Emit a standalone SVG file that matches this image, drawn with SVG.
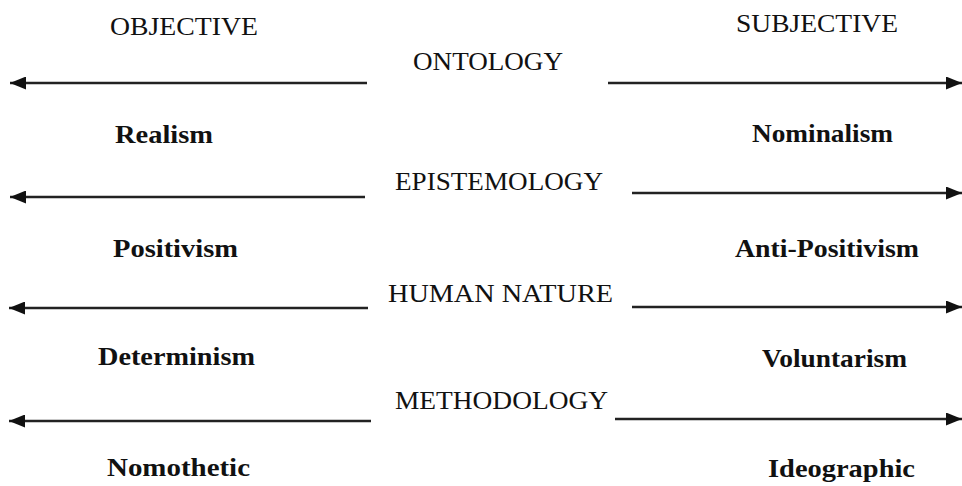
<svg xmlns="http://www.w3.org/2000/svg" width="962" height="486" viewBox="0 0 962 486">
<defs>
<marker id="ah" markerUnits="userSpaceOnUse" markerWidth="17" markerHeight="13" refX="16" refY="6.5" orient="auto">
<path d="M0,0 L16,6.5 L0,13 z" fill="#111"/>
</marker>
<style>
.hd{font-family:"Liberation Serif","Times New Roman",serif;font-size:26px;fill:#111}
.tm{font-family:"Liberation Serif","Times New Roman",serif;font-size:26px;font-weight:bold;fill:#111}
.ln{stroke:#222;stroke-width:2.5;fill:none;marker-end:url(#ah)}
</style>
</defs>
<rect width="962" height="486" fill="#fff"/>
<g id="header-objective"><text class="hd" x="110" y="35" textLength="148" lengthAdjust="spacingAndGlyphs">OBJECTIVE</text></g>
<g id="header-subjective"><text class="hd" x="736" y="32" textLength="162" lengthAdjust="spacingAndGlyphs">SUBJECTIVE</text></g>
<g id="ontology"><text class="hd" x="413" y="70" textLength="150" lengthAdjust="spacingAndGlyphs">ONTOLOGY</text></g>
<g id="epistemology"><text class="hd" x="395" y="190" textLength="208" lengthAdjust="spacingAndGlyphs">EPISTEMOLOGY</text></g>
<g id="human-nature"><text class="hd" x="388" y="302" textLength="225" lengthAdjust="spacingAndGlyphs">HUMAN NATURE</text></g>
<g id="methodology"><text class="hd" x="395" y="409" textLength="213" lengthAdjust="spacingAndGlyphs">METHODOLOGY</text></g>
<g id="realism"><text class="tm" x="115" y="143" textLength="98" lengthAdjust="spacingAndGlyphs">Realism</text></g>
<g id="nominalism"><text class="tm" x="752" y="142" textLength="141" lengthAdjust="spacingAndGlyphs">Nominalism</text></g>
<g id="positivism"><text class="tm" x="113" y="257" textLength="125" lengthAdjust="spacingAndGlyphs">Positivism</text></g>
<g id="anti-positivism"><text class="tm" x="735" y="257" textLength="184" lengthAdjust="spacingAndGlyphs">Anti-Positivism</text></g>
<g id="determinism"><text class="tm" x="98" y="365" textLength="157" lengthAdjust="spacingAndGlyphs">Determinism</text></g>
<g id="voluntarism"><text class="tm" x="762" y="367" textLength="145" lengthAdjust="spacingAndGlyphs">Voluntarism</text></g>
<g id="nomothetic"><text class="tm" x="107" y="476" textLength="143" lengthAdjust="spacingAndGlyphs">Nomothetic</text></g>
<g id="ideographic"><text class="tm" x="768" y="477" textLength="147" lengthAdjust="spacingAndGlyphs">Ideographic</text></g>
<g id="connectors">
<line class="ln" x1="367" y1="83" x2="10" y2="83"/>
<line class="ln" x1="608" y1="83" x2="962" y2="83"/>
<line class="ln" x1="365" y1="197" x2="10" y2="197"/>
<line class="ln" x1="632" y1="193" x2="962" y2="193"/>
<line class="ln" x1="368" y1="308" x2="9" y2="308"/>
<line class="ln" x1="632" y1="307" x2="962" y2="307"/>
<line class="ln" x1="371" y1="421" x2="9" y2="421"/>
<line class="ln" x1="615" y1="419" x2="962" y2="419"/>
</g>
</svg>
